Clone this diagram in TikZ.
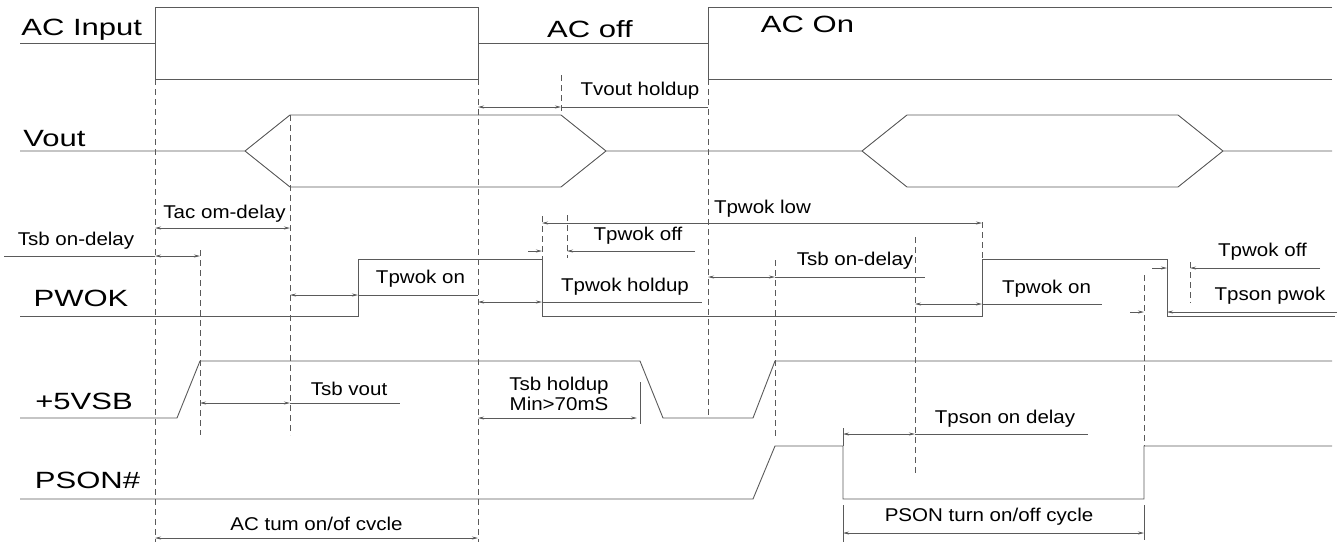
\documentclass[tikz,border=0pt]{standalone}
\usepackage{fontspec}
\setmainfont{Liberation Sans}
\newfontfamily\bigf[FakeStretch=1.32]{Liberation Sans}
\newfontfamily\smf[FakeStretch=1.11]{Liberation Sans}
\usetikzlibrary{arrows.meta}
\definecolor{ln}{HTML}{5A5A5A}
\tikzset{
  sig/.style={draw=ln, line width=0.9pt, line join=miter},
  dsh/.style={draw=ln, line width=0.8pt, dash pattern=on 6pt off 4pt},
  dim/.style={draw=ln, line width=0.7pt},
  dimarr/.style={dim, {Stealth[length=6pt,width=3pt]}-{Stealth[length=6pt,width=3pt]}},
  onearr/.style={dim, -{Stealth[length=6pt,width=3pt]}},
  biglab/.style={anchor=base, inner sep=0pt, font=\bigf\fontsize{23.5}{26}\selectfont},
  smlab/.style={anchor=base, inner sep=0pt, font=\smf\fontsize{18.5}{20}\selectfont},
}
\begin{document}
\begin{tikzpicture}[x=1pt, y=-1pt]
\useasboundingbox (0,0) rectangle (1343,542);

% ---------- signals ----------
% AC Input
\draw[sig] (20,43) -- (155,43);
\draw[sig] (155,7) rectangle (478,79);
\draw[sig] (478,43) -- (708,43);
\draw[sig] (1332,7) -- (708,7) -- (708,79) -- (1332,79);
% Vout
\draw[sig] (20,151) -- (245,151) -- (290,115) -- (561,115) -- (606,151) -- (862,151) -- (907,115) -- (1178,115) -- (1223,151) -- (1332,151);
\draw[sig] (245,151) -- (290,187) -- (561,187) -- (606,151);
\draw[sig] (862,151) -- (907,187) -- (1178,187) -- (1223,151);
% PWOK
\draw[sig] (20,316) -- (358,316) -- (358,259) -- (542,259) -- (542,316) -- (982,316) -- (982,259) -- (1167,259) -- (1167,316) -- (1335,316);
% +5VSB
\draw[sig] (20,418) -- (177,418) -- (200,361) -- (640,361) -- (663,418) -- (753,418) -- (775,361) -- (1332,361);
% PSON#
\draw[sig] (20,499) -- (753,499) -- (775,446) -- (843,446) -- (843,499) -- (1144,499) -- (1144,446) -- (1332,446);

% ---------- dashed guides ----------
\draw[dsh] (155,79) -- (155,542);
\draw[dsh] (290,115) -- (290,435);
\draw[dsh] (200,250) -- (200,435);
\draw[dsh] (478,79) -- (478,542);
\draw[dsh] (561,75) -- (561,115);
\draw[dsh] (708,79) -- (708,418);
\draw[dsh] (542,216) -- (542,259);
\draw[dsh] (567,215) -- (567,258);
\draw[dsh] (775,260) -- (775,438);
\draw[dsh] (982,222) -- (982,259);
\draw[dsh] (915,237) -- (915,475);
\draw[dsh] (1144,275) -- (1144,446);
\draw[dsh] (1190,262) -- (1190,303);

% ---------- dimensions ----------
% Tvout holdup
\draw[dimarr] (478,107) -- (561,107);
\draw[dim] (561,107) -- (708,107);
% Tac om-delay
\draw[dimarr] (155,228) -- (290,228);
% Tsb on-delay (1)
\draw[dim] (4,256) -- (155,256);
\draw[dimarr] (155,256) -- (200,256);
% Tpwok on (1)
\draw[dimarr] (290,295) -- (358,295);
\draw[dim] (358,295) -- (478,295);
% Tpwok low
\draw[dimarr] (542,223) -- (982,223);
% Tpwok off (1)
\draw[onearr] (528,251) -- (542,251);
\draw[onearr] (695,251) -- (567,251);
% Tpwok holdup
\draw[dimarr] (478,302) -- (542,302);
\draw[dim] (542,302) -- (702,302);
% Tsb on-delay (2)
\draw[dimarr] (708,277) -- (775,277);
\draw[dim] (775,277) -- (925,277);
% Tpwok on (2)
\draw[dimarr] (915,304) -- (982,304);
\draw[dim] (982,304) -- (1102,304);
% Tpwok off (2)
\draw[onearr] (1152,268) -- (1167,268);
\draw[onearr] (1320,268) -- (1190,268);
% Tpson pwok
\draw[onearr] (1130,312) -- (1144,312);
\draw[onearr] (1337,312) -- (1167,312);
% Tsb vout
\draw[dimarr] (200,403) -- (290,403);
\draw[dim] (290,403) -- (400,403);
% Tsb holdup
\draw[dimarr] (478,418) -- (637,418);
\draw[dim] (640,382) -- (640,424);
% Tpson on delay
\draw[dim] (843,428) -- (843,446);
\draw[dimarr] (843,434) -- (915,434);
\draw[dim] (915,434) -- (1088,434);
% PSON turn on/off cycle
\draw[dim] (843,505) -- (843,542);
\draw[dim] (1144,505) -- (1144,540);
\draw[dimarr] (843,533) -- (1144,533);
% AC turn on/off cycle
\draw[dimarr] (155,538) -- (478,538);

% ---------- labels ----------
\node[biglab] (lacin)  at (81.7,35)  {AC Input};
\node[biglab] (lacoff) at (590,37)   {AC off};
\node[biglab] (lacon)  at (807.5,32) {AC On};
\node[biglab] (lvout)  at (54.5,146.7) {Vout};
\node[biglab] (lpwok)  at (81,306.7) {PWOK};
\node[biglab] (lvsb)   at (84,409)   {+5VSB};
\node[biglab] (lpson)  at (87.5,488) {PSON\#};

\node[smlab] (tvout)   at (640,95.5)  {Tvout holdup};
\node[smlab] (tacon)   at (224.5,218) {Tac om-delay};
\node[smlab] (tsbon1)  at (76,245)    {Tsb on-delay};
\node[smlab] (tpwon1)  at (420.5,283) {Tpwok on};
\node[smlab] (tpwoff1) at (638,240)   {Tpwok off};
\node[smlab] (tpwlow)  at (762.5,213) {Tpwok low};
\node[smlab] (tpwhold) at (625,291.7) {Tpwok holdup};
\node[smlab] (tsbon2)  at (855,265)   {Tsb on-delay};
\node[smlab] (tpwon2)  at (1046.5,293) {Tpwok on};
\node[smlab] (tpwoff2) at (1262.5,256.5) {Tpwok off};
\node[smlab] (tpspw)   at (1270,300)  {Tpson pwok};
\node[smlab] (tsbvout) at (349,395)   {Tsb vout};
\node[smlab] (tsbhold) at (559,390)   {Tsb holdup};
\node[smlab] (tsbmin)  at (559,410)   {Min>70mS};
\node[smlab] (tpsond)  at (1005,423)  {Tpson on delay};
\node[smlab] (tpscyc)  at (989,521)   {PSON turn on/off cycle};
\node[smlab] (taccyc)  at (316.5,530.5) {AC tum on/of cvcle};
\end{tikzpicture}
\end{document}
